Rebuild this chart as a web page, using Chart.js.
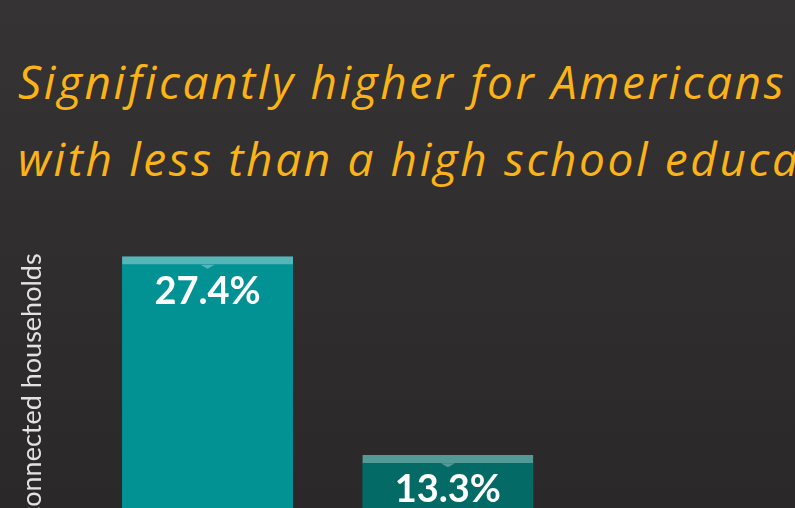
<!DOCTYPE html>
<html>
<head>
<meta charset="utf-8">
<script src="https://cdn.jsdelivr.net/npm/chart.js@4"></script>
<style>
  html, body { margin: 0; padding: 0; width: 795px; height: 508px; overflow: hidden; }
  body { background: linear-gradient(#353334, #2a2828); position: relative; }
  #title {
    position: absolute; left: 18px; top: 43px; margin: 0;
    font-family: "Open Sans", sans-serif; font-style: italic; font-weight: 400;
    font-size: 46px; line-height: 77px; letter-spacing: 2.6px; color: #fbb317; white-space: nowrap;
  }
  #chart { position: absolute; left: 0; top: 0; }
</style>
</head>
<body>
<div id="title">Significantly higher for Americans<br>with less than a high school education</div>
<canvas id="chart" width="795" height="690"></canvas>
<script>
const categories = ['Less than high school', 'High school graduate'];
const values = [27.4, 13.3];
const barColors = ['#039294', '#036a66'];
const capColors = ['#55b5b7', '#539a97'];
const yMax = 30;

const barLabels = {
  id: 'barLabels',
  afterDatasetsDraw(chart) {
    const ctx = chart.ctx;
    const meta = chart.getDatasetMeta(0);
    meta.data.forEach((bar, i) => {
      // little notch under the cap
      ctx.save();
      ctx.fillStyle = capColors[i];
      ctx.beginPath();
      ctx.moveTo(bar.x - 7, bar.y + 8);
      ctx.lineTo(bar.x + 7, bar.y + 8);
      ctx.lineTo(bar.x, bar.y + 12);
      ctx.closePath();
      ctx.fill();
      ctx.fillStyle = '#ffffff';
      ctx.font = 'bold 38px Lato';
      ctx.textAlign = 'center';
      ctx.textBaseline = 'alphabetic';
      ctx.fillText(values[i].toFixed(1) + '%', bar.x, bar.y + 47);
      ctx.restore();
    });
  }
};

new Chart(document.getElementById('chart').getContext('2d'), {
  type: 'bar',
  data: {
    labels: categories,
    datasets: [{
      data: values,
      backgroundColor: barColors,
      borderColor: capColors,
      borderWidth: { top: 8, left: 0, right: 0, bottom: 0 },
      borderSkipped: 'bottom',
      barThickness: 171
    }]
  },
  options: {
    responsive: false,
    animation: false,
    layout: {
      padding: { left: 0, right: 227, top: 220, bottom: 14 }
    },
    plugins: {
      legend: { display: false },
      tooltip: { enabled: false }
    },
    scales: {
      x: {
        grid: { display: false },
        border: { display: false },
        ticks: { color: '#dddddd', font: { family: 'Lato', size: 16 } }
      },
      y: {
        min: 0,
        max: yMax,
        grid: { display: false },
        border: { display: false },
        ticks: { display: false },
        title: {
          display: true,
          text: '% of unconnected households',
          color: '#e2e2e2',
          font: { family: 'Lato', size: 27 },
          padding: { top: 16, bottom: 31 }
        }
      }
    }
  },
  plugins: [barLabels]
});
</script>
</body>
</html>
